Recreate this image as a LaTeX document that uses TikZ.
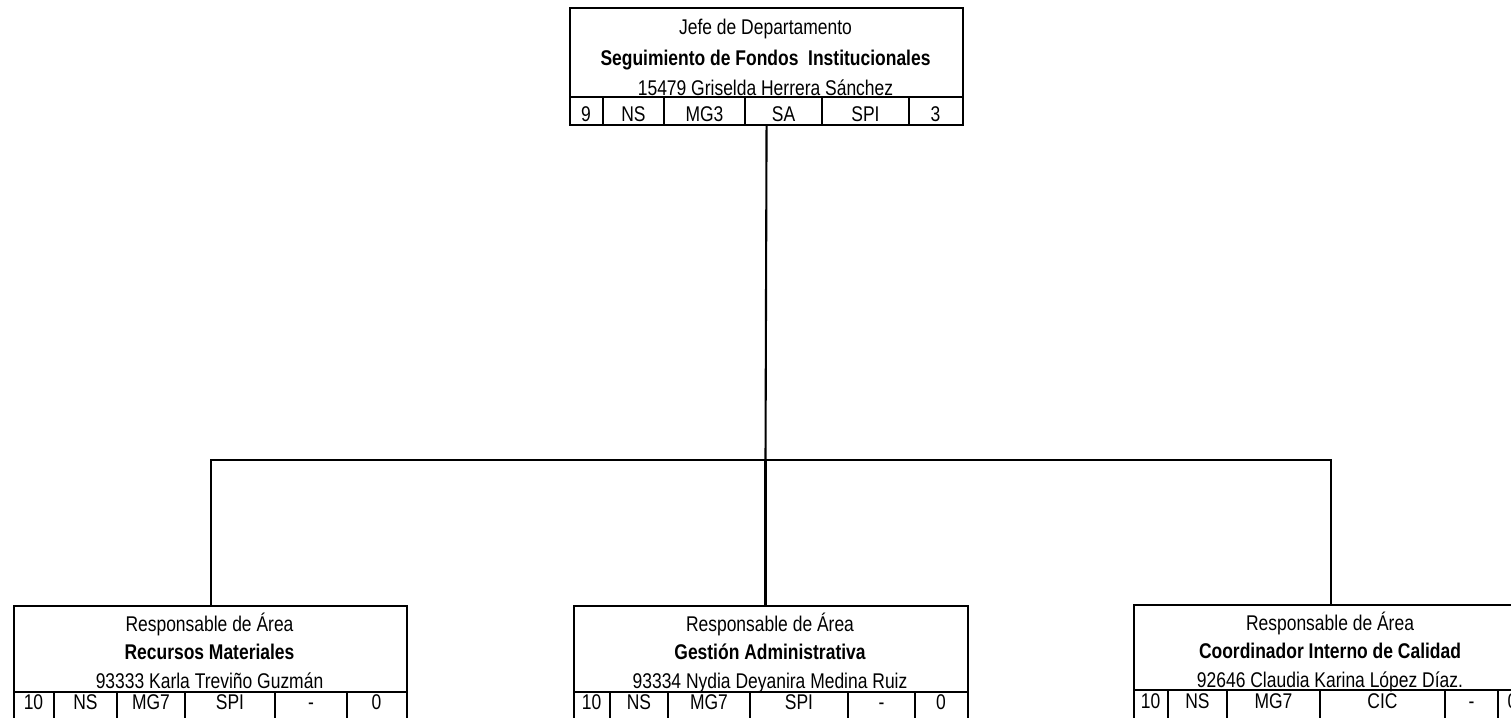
\documentclass[tikz,border=0pt]{standalone}
\usepackage{fontspec}
\setmainfont{Liberation Sans}[FakeStretch=0.82]
\begin{document}
\begin{tikzpicture}[x=1pt,y=-1pt,line width=2.1pt,
  box/.style={draw=black,rectangle,inner sep=0pt,anchor=north west},
  txt/.style={inner sep=0pt,anchor=base,font=\fontsize{21.3}{25}\selectfont},
  btxt/.style={txt,font=\fontsize{21.3}{25}\selectfont\bfseries},
  conn/.style={draw=black,line width=2.1pt}]
\useasboundingbox (0,0) rectangle (1511,717);
\clip (0,0) rectangle (1511,717);
\fill[white] (0,0) rectangle (1511,717);

% top box
\node[box,minimum width=393pt,minimum height=117pt] (top) at (569,7) {};
\node[txt] (t1) at (765.5,35) {Jefe de Departamento};
\node[btxt] (t2) at (765.5,65) {Seguimiento de Fondos\ \ Institucionales};
\node[txt] (t3) at (765.5,95) {15479 Griselda Herrera Sánchez};
\draw (569,97) -- (962,97);
\foreach \a/\b/\t in {569/603/9,603/664/NS,664/745/MG3,745/822/SA,822/909/SPI,909/962/3}{
  \node[txt] at ({(\a+\b)/2},121) {\t};
}
\foreach \x in {603,664,745,822,909} \draw (\x,97) -- (\x,124);

% bottom left box
\node[box,minimum width=393pt,minimum height=117pt] (left) at (13,605) {};
\node[txt] at (209.5,631) {Responsable de Área};
\node[btxt] at (209.5,659) {Recursos Materiales};
\node[txt] at (209.5,688) {93333 Karla Treviño Guzmán};
\draw (13,692) -- (406,692);
\foreach \a/\b/\t in {13/54/10,54/117/NS,117/185/MG7,185/275/SPI,275/347/-,347/406/0}{
  \node[txt] at ({(\a+\b)/2},709) {\t};
}
\foreach \x in {54,117,185,275,347} \draw (\x,692) -- (\x,722);

% bottom middle box
\node[box,minimum width=394pt,minimum height=117pt] (mid) at (573,605) {};
\node[txt] at (770,631) {Responsable de Área};
\node[btxt] at (770,659) {Gestión Administrativa};
\node[txt] at (770,688) {93334 Nydia Deyanira Medina Ruiz};
\draw (573,692) -- (967,692);
\foreach \a/\b/\t in {573/610/10,610/668/NS,668/750/MG7,750/848/SPI,848/915/-,915/967/0}{
  \node[txt] at ({(\a+\b)/2},709) {\t};
}
\foreach \x in {610,668,750,848,915} \draw (\x,692) -- (\x,722);

% bottom right box
\node[box,minimum width=394pt,minimum height=117pt] (right) at (1133,604) {};
\node[txt] at (1330,630) {Responsable de Área};
\node[btxt] at (1330,658) {Coordinador Interno de Calidad};
\node[txt] at (1330,687) {92646 Claudia Karina López Díaz.};
\draw (1133,690) -- (1527,690);
\foreach \a/\b/\t in {1133/1168/10,1168/1227/NS,1227/1320/MG7,1320/1445/CIC,1445/1498/-,1498/1527/0}{
  \node[txt] at ({(\a+\b)/2},708) {\t};
}
\foreach \x in {1168,1227,1320,1445,1498} \draw (\x,690) -- (\x,722);

% connectors
\coordinate (j) at (765.5,460);
\draw[conn] (top.south) -- (j);
\draw[conn] (left.north) |- (j) -| (right.north);
\draw[conn] (j) -- (j |- mid.north);
\end{tikzpicture}
\end{document}
